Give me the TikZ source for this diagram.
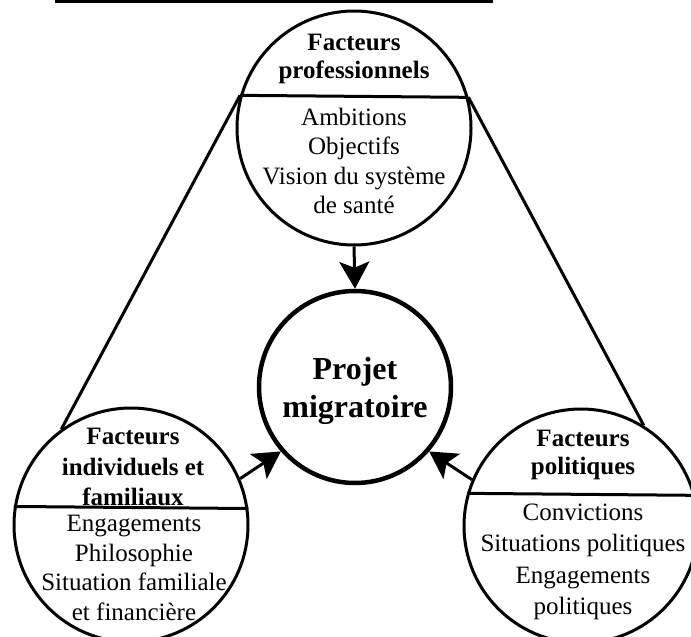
\documentclass[tikz,border=0pt]{standalone}
\usepackage{fontspec}
\setmainfont{Liberation Serif}
\usetikzlibrary{arrows.meta}

\begin{document}
\begin{tikzpicture}[x=1pt,y=-1pt]

	\tikzset{factor/.style={draw,circle,line width=3pt,minimum size=234pt,inner sep=0pt},
		head/.style={align=center,inner sep=0pt,font=\fontsize{25}{28}\selectfont\bfseries},
		items/.style={align=center,inner sep=0pt,font=\fontsize{25}{29.5}\selectfont},
		link/.style={line width=3pt},
		flow/.style={line width=3pt,-{Stealth[length=27pt,width=30pt,inset=6pt]}}}

	\clip (0,0) rectangle (691,637);
	\fill[white] (0,0) rectangle (691,637);

	\draw[line width=3pt] (55,1.5) -- (493,1.5);

	\node[factor] (prof) at (354,128) {};
	\node[factor] (indiv) at (131,525) {};
	\node[factor] (polit) at (581,526) {};
	\node[draw,circle,line width=4.5pt,minimum size=192pt,inner sep=0pt] (proj) at (355,387) {};

	% lignes de separation
	\draw[link] (prof.164.6) -- (prof.15.4);
	\draw[link] (indiv.171.6) -- (indiv.8.4);
	\draw[link] (polit.164.6) -- (polit.15.4);

	\node[head] (profhead) at (354,59) {Facteurs\\professionnels};
	\node[items] (profitems) at (354,161) {Ambitions\\Objectifs\\Vision du système\\de santé};

	\node[head,font=\fontsize{25}{30.5}\selectfont\bfseries] (indivhead) at (133,467) {Facteurs\\individuels et\\familiaux};
	\node[items] (indivitems) at (134,568) {Engagements\\Philosophie\\Situation familiale\\et financière};

	\node[head] (polithead) at (583,455) {Facteurs\\politiques};
	\node[items,font=\fontsize{25}{31.5}\selectfont] (polititems) at (583,562) {Convictions\\Situations politiques\\Engagements\\politiques};

	\node[align=center,inner sep=0pt,font=\fontsize{32}{38}\selectfont\bfseries] (projtext) at (355,391) {Projet\\migratoire};

	\draw[link] (indiv.126) -- (prof.164.6);
	\draw[link] (polit.58.9) -- (prof.15.4);

	\draw[flow] (prof.south) -- (proj.north);
	\draw[flow] (indiv.23) -- (proj.221);
	\draw[flow] (polit.157) -- (proj.319);

\end{tikzpicture}
\end{document}
